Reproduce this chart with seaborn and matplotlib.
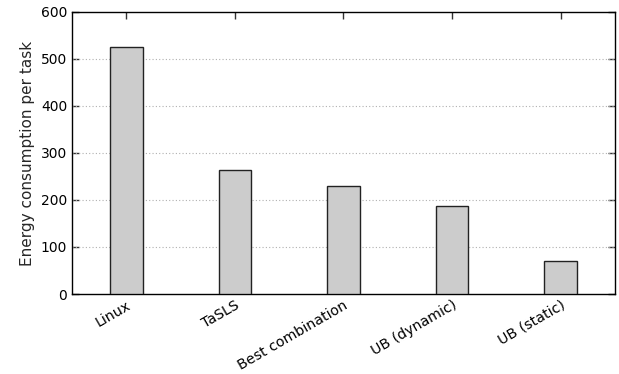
import matplotlib
matplotlib.use("Agg")
import matplotlib.pyplot as plt
import seaborn as sns
import pandas as pd

categories = ["Linux", "TaSLS", "Best combination", "UB (dynamic)", "UB (static)"]
values = [526, 264, 229, 188, 70]
yticks = [0, 100, 200, 300, 400, 500, 600]

sns.set_theme(style="white")
plt.rcParams['font.family'] = ['DejaVu Sans']

df = pd.DataFrame({"cat": categories, "val": values})

fig = plt.figure(figsize=(6.19, 3.74), dpi=100)
ax = fig.add_axes([0.1163, 0.2139, 0.9935 - 0.1163, 0.968 - 0.2139])

sns.barplot(data=df, x="cat", y="val", ax=ax, width=0.3, color="#cccccc",
            edgecolor="#222222", linewidth=1.0, saturation=1, zorder=3)

ax.set_xlim(-0.5, 4.5)
ax.set_ylim(0, 600)
ax.set_yticks(yticks)
ax.set_yticklabels([str(t) for t in yticks], fontsize=10)
ax.set_xticks(range(len(categories)))
ax.set_xticklabels(categories, rotation=30, ha="right", rotation_mode="anchor", fontsize=10.2)
ax.set_xlabel("")
ax.set_ylabel("Energy consumption per task", fontsize=11)

for y in yticks[1:-1]:
    ax.axhline(y, color="#b0b0b0", linestyle=(0, (1, 2)), linewidth=0.8, zorder=1)

for s in ax.spines.values():
    s.set_color("black")
    s.set_linewidth(1.0)

ax.tick_params(axis="both", direction="in", length=5, width=1, color="#333333",
               top=True, right=True, bottom=True, left=True, labelcolor="black")
ax.tick_params(axis="x", pad=3)

fig.savefig("out.png", dpi=100)
